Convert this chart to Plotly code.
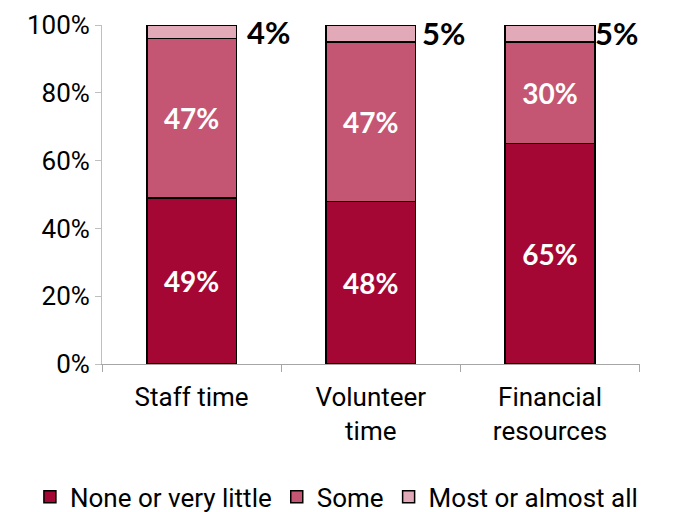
import plotly.graph_objects as go

categories = ["Staff time", "Volunteer<br>time", "Financial<br>resources"]
none_little = [49, 48, 65]
some = [47, 47, 30]
most_all = [4, 5, 5]

series = [
    ("None or very little", none_little, "#A50734"),
    ("Some", some, "#C45674"),
    ("Most or almost all", most_all, "#E2A9B8"),
]

fig = go.Figure()
for i, (name, vals, color) in enumerate(series):
    inside = i < 2
    fig.add_trace(go.Bar(
        x=categories, y=vals, name=name,
        marker=dict(color=color, line=dict(color="black", width=1.5)),
        width=0.5,
        text=[f"{v}%" for v in vals] if inside else None,
        textposition="inside" if inside else "none",
        insidetextanchor="middle",
        textangle=0,
        textfont=dict(family="Lato", size=28, color="white", weight="bold"),
    ))

# labels for the small top segment, placed to the right of each bar
totals = [a + b + c for a, b, c in zip(none_little, some, most_all)]
label_gap = [53, 49, 43]
for cat, tot, top, gap in zip(categories, totals, most_all, label_gap):
    fig.add_annotation(
        x=cat, y=tot - top / 2, text=f"<b>{top}%</b>",
        showarrow=False, xanchor="left", xshift=gap,
        font=dict(family="Lato", size=31, color="black"),
    )

# the page adds an 8px body margin, so margins are shifted to compensate
fig.update_layout(
    barmode="stack",
    width=683, height=512,
    margin=dict(l=94, r=51, t=17, b=156, autoexpand=False),
    plot_bgcolor="white", paper_bgcolor="white",
    font=dict(family="Roboto", size=24, color="black"),
    legend=dict(
        orientation="h", x=-0.134, xanchor="left",
        y=-0.392, yanchor="middle",
        font=dict(size=26), itemwidth=30, traceorder="normal",
    ),
    xaxis=dict(
        showline=True, linecolor="#A6A6A6", linewidth=1,
        ticks="outside", tickson="boundaries", ticklen=7, tickcolor="#A6A6A6",
        tickfont=dict(size=26), ticklabelstandoff=10,
    ),
    yaxis=dict(
        range=[0, 100], dtick=20, ticksuffix="%",
        showline=True, linecolor="#BFBFBF", linewidth=1,
        ticks="outside", ticklen=6, tickcolor="#BFBFBF",
        showgrid=False, zeroline=False,
        tickfont=dict(size=26),
    ),
)

fig.write_html("out.html")
